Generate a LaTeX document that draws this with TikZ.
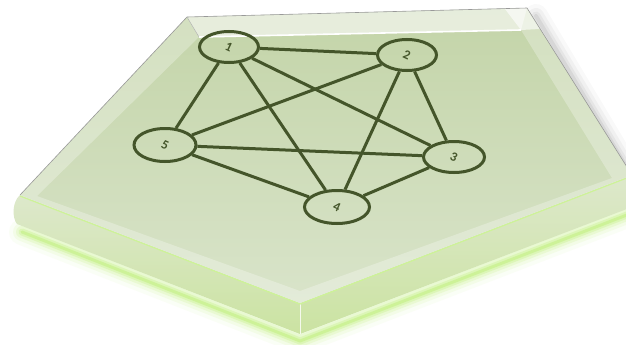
\documentclass[tikz,border=0pt]{standalone}
\usepackage{fontspec}
\newfontfamily\labelfont{Carlito}
\usetikzlibrary{shapes.geometric}
\definecolor{ink}{HTML}{44552A}
\definecolor{faceA}{HTML}{C3D4A8}
\definecolor{faceB}{HTML}{D9E4CA}
\definecolor{sideA}{HTML}{DDE8CB}
\definecolor{sideB}{HTML}{CBE3A2}
\definecolor{glow}{HTML}{B8EE6A}
\tikzset{
  vert/.style={ellipse, draw=ink, line width=3pt, minimum width=59pt, minimum height=31pt, inner sep=0pt},
  vlabel/.style={font=\labelfont\bfseries\fontsize{13}{15}\selectfont, text=ink, rotate=-25},
  edge/.style={draw=ink, line width=3pt},
  rimline/.style={draw=black!40, line width=0.6pt},
}
\begin{document}
\begin{tikzpicture}[x=1pt,y=-1pt]
\useasboundingbox (0,0) rectangle (626,345);
\fill[white] (0,0) rectangle (626,345);

% lime glow under the slab
\foreach \w/\o in {26/0.06, 18/0.10, 12/0.16, 7/0.25, 3/0.4} {
  \draw[glow, line width=\w pt, opacity=\o, line join=round, line cap=round]
    (22,232) -- (300,341) -- (632,213);
}
% soft grey shadow on the right of the slab
\foreach \w/\o in {24/0.025, 16/0.035, 9/0.045, 4/0.06} {
  \draw[black, line width=\w pt, opacity=\o, line cap=round]
    (536,16) -- (638,186);
}

% side faces
\shade[top color=sideA, bottom color=sideB]
  (20,195) -- (300,303) -- (300,334) -- (17,224) .. controls (12,218) and (12,202) .. (20,195) -- cycle;
\shade[top color=sideA, bottom color=sideB]
  (300,303) -- (632,175) -- (632,207) -- (300,334) -- cycle;
\draw[white, line width=0.8pt, opacity=0.8] (300,303) -- (300,334);
\draw[glow!70!white, line width=1.2pt] (20,196) -- (300,304) -- (632,176);

% top face
\shade[top color=faceA, bottom color=faceB]
  (187,17) -- (527,8) -- (632,175) -- (300,303) -- (20,195) -- cycle;

% bevel rim
\fill[white, opacity=0.28, even odd rule]
  (187,17) -- (527,8) -- (632,175) -- (300,303) -- (20,195) -- cycle
  (199,37) -- (521,30) -- (612,178) -- (300,291) -- (37,196) -- cycle;
\fill[white, opacity=0.45] (187,17) -- (527,8) -- (521,30) -- (199,37) -- cycle;
\fill[white, opacity=0.6] (505,9) -- (527,8) -- (540,29) -- (521,30) -- cycle;
\draw[white, line width=1.6pt] (199,37) -- (521,30);
\draw[rimline] (20,195) -- (187,17) -- (527,8) -- (632,175);
\draw[black!30, line width=0.5pt] (187,17) -- (199,37);

% graph
\node[vert] (n1) at (229,47) {};
\node[vert] (n2) at (407,55) {};
\node[vert, minimum width=61pt] (n3) at (454,157) {};
\node[vert, minimum width=65pt, minimum height=33pt] (n4) at (337,207) {};
\node[vert, minimum width=62pt, minimum height=33pt] (n5) at (165,145) {};

\node[vlabel] (l1) at (n1) {1};
\node[vlabel] (l2) at (n2) {2};
\node[vlabel] (l3) at (n3) {3};
\node[vlabel] (l4) at (n4) {4};
\node[vlabel] (l5) at (n5) {5};

\draw[edge] (n1) -- (n2);
\draw[edge] (n1) -- (n3);
\draw[edge] (n1) -- (n4);
\draw[edge] (n1) -- (n5);
\draw[edge] (n2) -- (n3);
\draw[edge] (n2) -- (n4);
\draw[edge] (n2) -- (n5);
\draw[edge] (n3) -- (n4);
\draw[edge] (n3) -- (n5);
\draw[edge] (n4) -- (n5);
\end{tikzpicture}
\end{document}
